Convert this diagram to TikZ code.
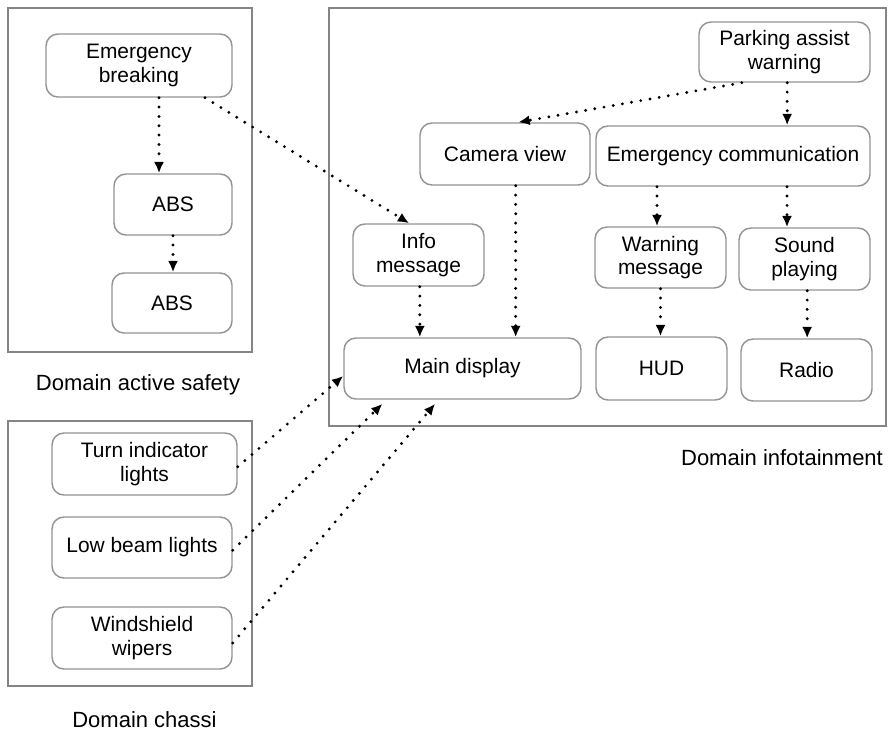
\documentclass[tikz,border=0pt]{standalone}
\usepackage{fontspec}
\setmainfont{Liberation Sans}
\usetikzlibrary{arrows.meta}
\begin{document}
\begin{tikzpicture}[
            x=0.75pt, y=-0.75pt,
            unit/.style = {draw=black!42, line width=1.1pt, rounded corners=9pt, align=center, inner sep=0pt, font=\fontsize{15.7}{17.8}\selectfont},
            zonebox/.style = {draw=black!48, line width=1.2pt},
            zonelabel/.style = {font=\fontsize{16.5}{18}\selectfont},
            link/.style = {line width=2.4pt, line cap=round, dash pattern=on 0pt off 7pt, -{Latex[length=8.5pt,width=7.5pt]}}
        ]
            \useasboundingbox (0,0) rectangle (889,733);
            \draw[zonebox] (8,8) rectangle (252,352);
            \draw[zonebox] (329,8) rectangle (886,426);
            \draw[zonebox] (8,421) rectangle (252,686);
            \node[zonelabel] (lsafety) at (138,385) {Domain active safety};
            \node[zonelabel] (linfo) at (782,458) {Domain infotainment};
            \node[zonelabel] (lchassi) at (144.5,720) {Domain chassi};
            \node[unit, minimum width=139.5pt, minimum height=47.25pt] (emb) at (139,65.5) {Emergency\\breaking};
            \node[unit, minimum width=88.5pt, minimum height=45.75pt] (abs1) at (173,204.5) {ABS};
            \node[unit, minimum width=90pt, minimum height=45pt] (abs2) at (172,303) {ABS};
            \node[unit, minimum width=128.25pt, minimum height=45pt] (park) at (784.5,52) {Parking assist\\warning};
            \node[unit, minimum width=127.5pt, minimum height=46.5pt] (camera) at (505,154) {Camera view};
            \node[unit, minimum width=205.5pt, minimum height=45pt] (emcomm) at (733,156) {Emergency communication};
            \node[unit, minimum width=98.25pt, minimum height=46.5pt] (info) at (418.5,255) {Info\\message};
            \node[unit, minimum width=98.25pt, minimum height=45.75pt] (warning) at (660.5,257.5) {Warning\\message};
            \node[unit, minimum width=98.25pt, minimum height=46.5pt] (sound) at (804.5,259) {Sound\\playing};
            \node[unit, minimum width=177.75pt, minimum height=45.75pt] (maind) at (462.5,368.5) {Main display};
            \node[unit, minimum width=98.25pt, minimum height=47.25pt] (hud) at (661.5,368.5) {HUD};
            \node[unit, minimum width=98.25pt, minimum height=46.5pt] (radio) at (806.5,370) {Radio};
            \node[unit, minimum width=138.75pt, minimum height=46.5pt] (turn) at (144.5,464) {Turn indicator\\lights};
            \node[unit, minimum width=135pt, minimum height=45.75pt] (low) at (142,547.5) {Low beam lights};
            \node[unit, minimum width=135pt, minimum height=46.5pt] (wind) at (142,638) {Windshield\\wipers};
            \draw[link] ([xshift=15pt]emb.south) -- ([xshift=15pt]emb.south |- abs1.north);
            \draw[link] (abs1.south) -- (abs1.south |- abs2.north);
            \draw[link] ([xshift=49.5pt]emb.south) -- ([xshift=-7pt]info.north);
            \draw[link] ([xshift=-32pt]park.south) -- ([xshift=10pt]camera.north);
            \draw[link] ([xshift=2pt]park.south) -- ([xshift=2pt]park.south |- emcomm.north);
            \draw[link] ([xshift=8pt]camera.south) -- ([xshift=8pt]camera.south |- maind.north);
            \draw[link] ([xshift=1pt]info.south) -- ([xshift=1pt]info.south |- maind.north);
            \draw[link] ([xshift=-57pt]emcomm.south) -- ([xshift=-57pt]emcomm.south |- warning.north);
            \draw[link] ([xshift=40.5pt]emcomm.south) -- ([xshift=40.5pt]emcomm.south |- sound.north);
            \draw[link] (warning.south) -- (warning.south |- hud.north);
            \draw[link] ([xshift=2pt]sound.south) -- ([xshift=2pt]sound.south |- radio.north);
            \draw[link] ([yshift=-2pt]turn.east) -- ([yshift=-5.6pt]maind.west);
            \draw[link] ([yshift=-2pt]low.east) -- ([xshift=-60pt,yshift=-3pt]maind.south);
            \draw[link] ([yshift=-3.75pt]wind.east) -- ([xshift=-20.5pt,yshift=-3pt]maind.south);
        \end{tikzpicture}
\end{document}
